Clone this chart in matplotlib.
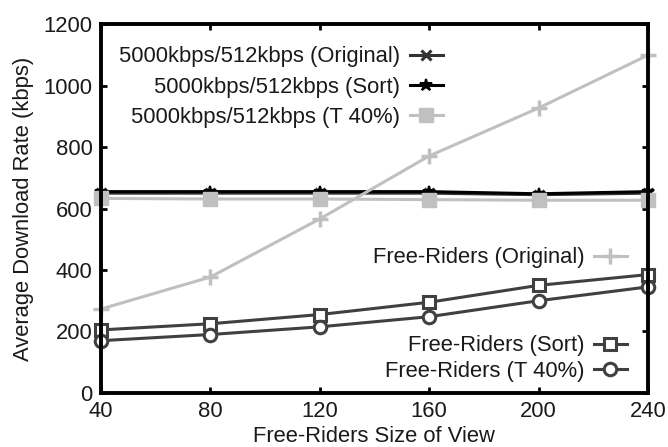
import matplotlib
matplotlib.use("Agg")
import matplotlib.pyplot as plt

plt.rcParams['font.family'] = ['Liberation Sans', 'DejaVu Sans']

x = [40, 80, 120, 160, 200, 240]
orig_5000 = [650, 650, 650, 650, 645, 650]
sort_5000 = [655, 655, 655, 655, 648, 655]
t40_5000 = [633, 631, 631, 629, 627, 627]
fr_orig = [273, 377, 566, 771, 927, 1099]
fr_sort = [205, 225, 255, 295, 350, 385]
fr_t40 = [170, 190, 215, 248, 300, 345]

labels_top = ['5000kbps/512kbps (Original)', '5000kbps/512kbps (Sort)', '5000kbps/512kbps (T 40%)']
label_fr_orig = 'Free-Riders (Original)'
labels_fr = ['Free-Riders (Sort)', 'Free-Riders (T 40%)']

dark = '#404040'
light = '#c0c0c0'
txt = '#1a1a1a'
fs = 15.8

fig = plt.figure(figsize=(6.68, 4.47), dpi=100)
ax = fig.add_axes([0.151, 0.121, 0.819, 0.825])

l1, = ax.plot(x, orig_5000, color='#333333', lw=2.2, marker='x', ms=7, mew=2.2)
l2, = ax.plot(x, sort_5000, color='black', lw=2.2, marker='*', ms=9, mew=1.5)
l3, = ax.plot(x, t40_5000, color=light, lw=2.2, marker='s', ms=10, mew=1)
l4, = ax.plot(x, fr_orig, color=light, lw=2.2, marker='+', ms=11, mew=2.5)
l5, = ax.plot(x, fr_sort, color=dark, lw=2.2, marker='s', ms=9, mfc='white', mew=2.2)
l6, = ax.plot(x, fr_t40, color=dark, lw=2.2, marker='o', ms=9, mfc='white', mew=2.2)

for l in (l1, l2, l3, l4, l5, l6):
    l.set_clip_on(False)

ax.set_xlim(40, 240)
ax.set_ylim(0, 1200)
ax.set_xticks(x)
ax.set_yticks(range(0, 1201, 200))
ax.tick_params(direction='in', length=4, width=2, top=True, right=True,
               labelsize=fs, pad=6, labelcolor=txt)
for s in ax.spines.values():
    s.set_linewidth(2.8)
ax.set_xlabel('Free-Riders Size of View', fontsize=fs, labelpad=3, color=txt)
ax.set_ylabel('Average Download Rate (kbps)', fontsize=fs, labelpad=7, color=txt)

common = dict(frameon=False, markerfirst=False, fontsize=fs, handlelength=1.5,
              handletextpad=0.45, borderpad=0, borderaxespad=0, loc='center right',
              labelcolor=txt)
leg1 = ax.legend([l1, l2, l3], labels_top, bbox_to_anchor=(0.625, 0.829),
                 labelspacing=0.42, **common)
ax.add_artist(leg1)
leg2 = ax.legend([l4], [label_fr_orig], bbox_to_anchor=(0.9616, 0.366), **common)
ax.add_artist(leg2)
leg3 = ax.legend([l5, l6], labels_fr, bbox_to_anchor=(0.9616, 0.0935),
                 labelspacing=0.2, **common)
for lg in (leg1, leg2, leg3):
    for t in lg.get_texts():
        t.set_ha('right')

fig.savefig('out.png', dpi=100)
